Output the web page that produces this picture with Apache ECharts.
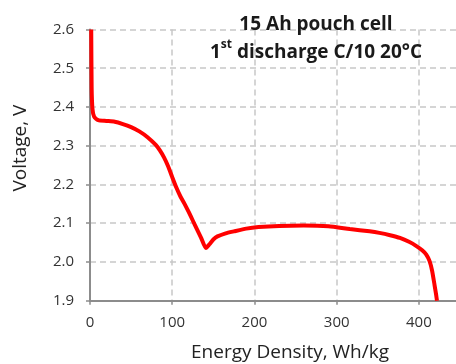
<!DOCTYPE html>
<html>
<head>
<meta charset="utf-8">
<script src="https://cdn.jsdelivr.net/npm/echarts@6/dist/echarts.min.js"></script>
<style>
  html, body { margin: 0; padding: 0; background: #fff; }
  #chart { width: 456px; height: 364px; }
</style>
</head>
<body>
<div id="chart"></div>
<script>
// energy density (Wh/kg) and voltage (V)
var energy = [1.5, 2, 3, 5, 10, 20, 30, 40, 50, 60, 70, 80, 85, 90, 95, 100, 105, 110, 115, 120, 125, 130, 135, 141, 145, 150, 155, 165, 175, 190, 205, 230, 260, 290, 316, 340, 352, 365, 377, 388, 397, 404, 409, 413, 416, 419, 421, 422];
var voltage = [2.6, 2.45, 2.395, 2.375, 2.366, 2.364, 2.362, 2.356, 2.348, 2.337, 2.322, 2.302, 2.288, 2.27, 2.247, 2.219, 2.192, 2.169, 2.15, 2.129, 2.107, 2.085, 2.063, 2.036, 2.045, 2.058, 2.066, 2.074, 2.079, 2.086, 2.09, 2.093, 2.094, 2.092, 2.085, 2.079, 2.075, 2.069, 2.062, 2.052, 2.041, 2.03, 2.019, 2.002, 1.978, 1.941, 1.915, 1.9];

var titleLine1 = '15 Ah pouch cell'
var titleLine2 = ['1', 'st', ' discharge C/10 20°C']

var font = 'Open Sans'

var data = energy.map(function (e, i) {
  return [e, voltage[i]]
})

var option = {
  animation: false,
  title: {
    text: '{b|' + titleLine1 + '}\n{b|' + titleLine2[0] + '}{sup|' + titleLine2[1] + '}{b|' + titleLine2[2] + '}',
    left: 311,
    top: 6,
    textAlign: 'center',
    textStyle: {
      rich: {
        b: { fontFamily: font, fontWeight: 'bold', fontSize: 19, color: '#1a1a1a', lineHeight: 28 },
        sup: { fontFamily: font, fontWeight: 'bold', fontSize: 12, color: '#1a1a1a', verticalAlign: 'top', lineHeight: 28, padding: [0, 0, 7, 0] }
      }
    }
  },
  grid: {
    left: 90,
    right: -4,
    top: 29.5,
    bottom: 63.3,
    outerBoundsMode: 'none'
  },
  xAxis: {
    type: 'value',
    min: 0,
    max: 450,
    interval: 100,
    name: 'Energy Density, Wh/kg',
    nameLocation: 'middle',
    nameGap: 42,
    nameTextStyle: { fontFamily: font, fontSize: 19, color: '#222', padding: [0, 0, 0, 30] },
    axisLine: { show: true, lineStyle: { color: '#8c8c8c', width: 2 } },
    axisTick: { show: true, length: 4, lineStyle: { color: '#8c8c8c', width: 1.5 } },
    axisLabel: { fontFamily: font, fontSize: 15, color: '#333', margin: 15, showMaxLabel: false },
    splitLine: { show: true, lineStyle: { color: '#c8c8c8', width: 1.5, type: [6, 4] } }
  },
  yAxis: {
    type: 'value',
    min: 1.9,
    max: 2.6,
    interval: 0.1,
    name: 'Voltage, V',
    nameLocation: 'middle',
    nameGap: 60,
    nameTextStyle: { fontFamily: font, fontSize: 19, color: '#222', padding: [0, 0, 0, 34] },
    axisLine: { show: true, lineStyle: { color: '#8c8c8c', width: 2 } },
    axisTick: { show: true, length: 4, lineStyle: { color: '#8c8c8c', width: 1.5 } },
    axisLabel: {
      fontFamily: font, fontSize: 15, color: '#333', margin: 16,
      formatter: function (v) { return v.toFixed(1) }
    },
    splitLine: { show: true, lineStyle: { color: '#c8c8c8', width: 1.5, type: [6, 4] } }
  },
  series: [{
    type: 'line',
    data: data,
    showSymbol: false,
    smooth: 0.2,
    clip: true,
    lineStyle: { color: '#ff0000', width: 4 }
  }]
}

var myChart = echarts.init(document.getElementById('chart'), null, { renderer: 'canvas' })
myChart.setOption(option)
</script>
</body>
</html>
